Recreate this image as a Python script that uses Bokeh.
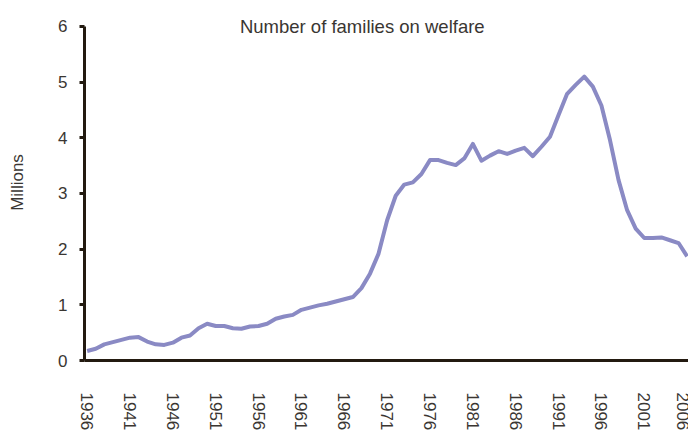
from bokeh.plotting import figure
from bokeh.models import FixedTicker, Label, Range1d
from bokeh.embed import file_html
from bokeh.resources import INLINE

years = list(range(1936, 2007))
families = [
    0.17, 0.21, 0.29, 0.33, 0.37, 0.41, 0.42, 0.34, 0.29, 0.28,
    0.32, 0.41, 0.45, 0.58, 0.66, 0.62, 0.62, 0.58, 0.57, 0.61,
    0.62, 0.66, 0.75, 0.79, 0.82, 0.91, 0.95, 0.99, 1.02, 1.06,
    1.10, 1.14, 1.30, 1.56, 1.92, 2.52, 2.96, 3.16, 3.20, 3.35,
    3.60, 3.60, 3.55, 3.51, 3.63, 3.89, 3.59, 3.68, 3.76, 3.71,
    3.77, 3.82, 3.67, 3.84, 4.02, 4.41, 4.79, 4.95, 5.10, 4.92,
    4.58, 3.96, 3.24, 2.70, 2.37, 2.20, 2.20, 2.21, 2.16, 2.11,
    1.87,
]
x_ticks = list(range(1936, 2007, 5))
y_ticks = [0, 1, 2, 3, 4, 5, 6]
title_text = "Number of families on welfare"
y_label = "Millions"

TEXT = "#3a3632"
AXIS = "#231a10"
FONT = "Liberation Sans"

p = figure(width=688, height=435, output_backend="svg", toolbar_location=None,
           x_range=Range1d(1935.69, 2006.16), y_range=Range1d(0, 6.395),
           min_border_left=84, min_border_right=0, min_border_top=4,
           min_border_bottom=75)
p.outline_line_color = None
p.xgrid.visible = False
p.ygrid.visible = False
p.background_fill_color = "white"
p.border_fill_color = "white"

p.line(years, families, line_color="#8a8ac4", line_width=4, line_join="round")

p.xaxis.ticker = FixedTicker(ticks=x_ticks)
p.yaxis.ticker = FixedTicker(ticks=y_ticks)
p.yaxis.bounds = (0, 6)
p.xaxis.minor_tick_line_color = None
p.yaxis.minor_tick_line_color = None

for ax in (p.xaxis, p.yaxis):
    ax.axis_line_color = AXIS
    ax.axis_line_width = 3
    ax.major_tick_line_color = AXIS
    ax.major_tick_line_width = 3
    ax.major_label_text_color = TEXT
    ax.major_label_text_font = FONT
    ax.major_label_text_font_size = "17px"

p.xaxis.major_tick_out = 0
p.xaxis.major_tick_in = 0
p.xaxis.major_label_orientation = "vertical"
p.xaxis.major_label_standoff = 32

p.yaxis.major_tick_out = 5
p.yaxis.major_tick_in = 0
p.yaxis.major_label_standoff = 12
p.yaxis.axis_label = y_label
p.yaxis.axis_label_text_font = FONT
p.yaxis.axis_label_text_font_size = "17px"
p.yaxis.axis_label_text_font_style = "normal"
p.yaxis.axis_label_text_color = TEXT
p.yaxis.axis_label_standoff = 28

p.add_layout(Label(x=1968.1, y=6, text=title_text, text_align="center",
                   text_baseline="middle", text_font=FONT,
                   text_font_size="18.5px", text_color=TEXT))

open("out.html", "w").write(file_html(p, INLINE))
